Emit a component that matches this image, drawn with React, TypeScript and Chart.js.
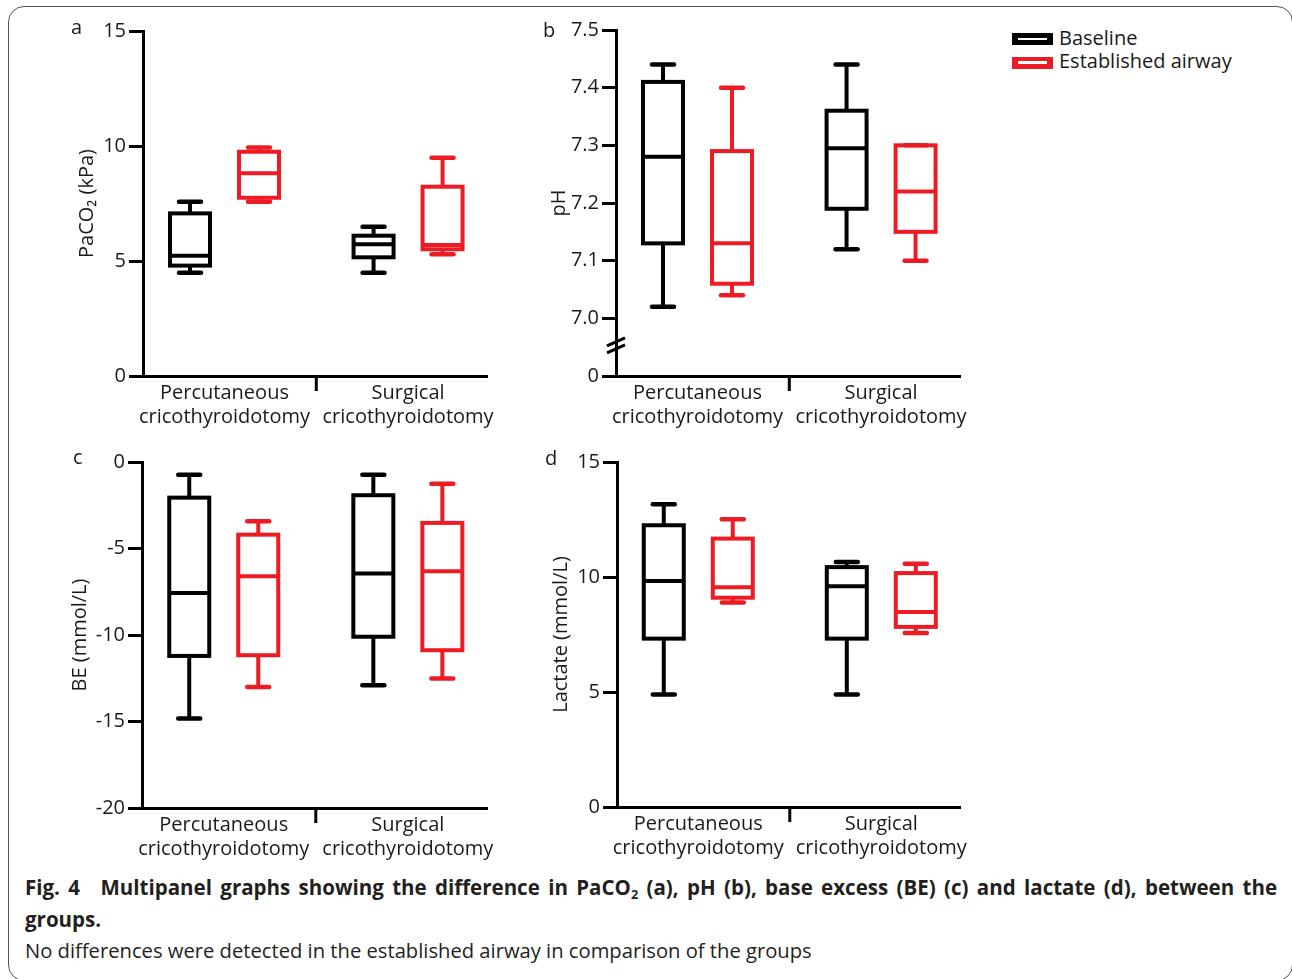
import React, { useEffect, useRef } from 'react';
import { Chart, registerables } from 'chart.js';

Chart.register(...registerables);

const FONT = "'Open Sans', 'DejaVu Sans', sans-serif";
const TEXT = '#1a1a1a';
const BLACK = '#000000';
const RED = '#ed1c24';

// ---------- data ----------
const categories = [
  ['Percutaneous', 'cricothyroidotomy'],
  ['Surgical', 'cricothyroidotomy'],
];
const groupIndex = [0, 1];
const seriesNames = ['Baseline', 'Established airway'];

// each box: [min, Q1, median, Q3, max]
const paco2Baseline = [
  [4.49, 4.8, 5.23, 7.07, 7.58],
  [4.49, 5.16, 5.73, 6.1, 6.49],
];
const paco2Airway = [
  [7.58, 7.75, 8.81, 9.75, 9.93],
  [5.29, 5.51, 5.7, 8.23, 9.49],
];
const phBaseline = [
  [7.02, 7.13, 7.28, 7.41, 7.44],
  [7.12, 7.19, 7.295, 7.36, 7.44],
];
const phAirway = [
  [7.04, 7.06, 7.13, 7.29, 7.4],
  [7.1, 7.15, 7.22, 7.3, 7.3],
];
const beBaseline = [
  [-14.83, -11.21, -7.57, -2.06, -0.73],
  [-12.9, -10.1, -6.45, -1.92, -0.73],
];
const beAirway = [
  [-13.0, -11.17, -6.61, -4.2, -3.43],
  [-12.52, -10.88, -6.32, -3.52, -1.25],
];
const lactateBaseline = [
  [4.89, 7.32, 9.83, 12.25, 13.16],
  [4.89, 7.32, 9.6, 10.43, 10.65],
];
const lactateAirway = [
  [8.89, 9.1, 9.55, 11.67, 12.51],
  [7.57, 7.83, 8.48, 10.17, 10.58],
];

const paco2Ticks = [0, 5, 10, 15];
const paco2TickLabels = ['0', '5', '10', '15'];
const phTicks = [6.9, 7.0, 7.1, 7.2, 7.3, 7.4, 7.5];
const phTickLabels = ['0', '7.0', '7.1', '7.2', '7.3', '7.4', '7.5'];
const beTicks = [-20, -15, -10, -5, 0];
const beTickLabels = ['-20', '-15', '-10', '-5', '0'];
const lactateTicks = [0, 5, 10, 15];
const lactateTickLabels = ['0', '5', '10', '15'];

const X_MIN = -0.444;
const X_MAX = 1.43;
const X_DIVIDER = 0.5;
const PH_BREAK = 6.953;

// ---------- plugin drawing box & whiskers via the chart scales ----------
const boxPlugin = {
  id: 'boxWhisker',
  afterDatasetsDraw(chart: any, _args: any, opts: any) {
    const { ctx } = chart;
    const ys = chart.scales.y;
    const xs = chart.scales.x;
    const py = (v: number) => ys.getPixelForValue(v);
    const seg = (x1: number, y1: number, x2: number, y2: number) => {
      ctx.beginPath();
      ctx.moveTo(x1, y1);
      ctx.lineTo(x2, y2);
      ctx.stroke();
    };
    ctx.save();
    chart.data.datasets.forEach((ds: any, di: number) => {
      const meta = chart.getDatasetMeta(di);
      ctx.strokeStyle = ds.boxColor;
      meta.data.forEach((bar: any, i: number) => {
        const [mn, q1, med, q3, mx] = ds.stats[i];
        const x = bar.x;
        const h = bar.width / 2;
        const c = opts.capHalf;
        ctx.lineCap = 'butt';
        ctx.lineWidth = opts.whiskerWidth;
        seg(x, py(q3), x, py(mx));
        seg(x, py(q1), x, py(mn));
        ctx.lineCap = 'round';
        ctx.lineWidth = opts.capWidth;
        seg(x - c, py(mx), x + c, py(mx));
        seg(x - c, py(mn), x + c, py(mn));
        ctx.lineCap = 'butt';
        ctx.lineJoin = 'miter';
        ctx.lineWidth = opts.boxWidth;
        ctx.strokeRect(x - h, py(q3), 2 * h, py(q1) - py(q3));
        seg(x - h, py(med), x + h, py(med));
      });
    });
    // category divider tick on x axis
    ctx.strokeStyle = BLACK;
    ctx.lineWidth = 3;
    ctx.lineCap = 'butt';
    const xm = xs.getPixelForValue(X_DIVIDER);
    seg(xm, xs.top, xm, xs.top + 15);
    // axis break marks
    if (opts.breakValue != null) {
      const yb = py(opts.breakValue);
      const xa = ys.right;
      ctx.lineWidth = 3;
      for (const d of [-3.5, 3.5]) seg(xa - 9, yb + d + 4, xa + 9, yb + d - 4);
    }
    ctx.restore();
  },
};

type Frame = {
  left: number; top: number; width: number; height: number;
  L: number; T: number; R: number; B: number; titleX: number;
};

type PanelProps = {
  frame: Frame;
  yTitle: string;
  baseline: number[][];
  airway: number[][];
  ticks: number[];
  tickLabels: string[];
  yMin: number;
  yMax: number;
  breakValue?: number;
};

function BoxPanel(props: PanelProps) {
  const ref = useRef<HTMLCanvasElement>(null);
  const f = props.frame;
  useEffect(() => {
    const yAxisWidth = f.L - f.left;
    const xAxisHeight = f.top + f.height - f.B;
    const mk = (stats: number[][], name: string, color: string) => ({
      label: name,
      data: groupIndex.map((g, i) => ({ x: g, y: [stats[i][1], stats[i][3]] })),
      stats,
      boxColor: color,
      backgroundColor: 'rgba(0,0,0,0)',
      borderWidth: 0,
      barThickness: 69,
      maxBarThickness: 40,
    });
    const chart = new Chart(ref.current as HTMLCanvasElement, {
      type: 'bar',
      data: {
        datasets: [
          mk(props.baseline, seriesNames[0], BLACK),
          mk(props.airway, seriesNames[1], RED),
        ] as any,
      },
      options: {
        responsive: false,
        animation: false,
        devicePixelRatio: 1,
        font: { family: FONT },
        layout: {
          padding: { left: 0, top: f.T - f.top, right: f.left + f.width - f.R, bottom: 0 },
        },
        plugins: {
          legend: { display: false },
          tooltip: { enabled: false },
          boxWhisker: {
            capHalf: 11,
            capWidth: 4.5,
            whiskerWidth: 4,
            boxWidth: 4,
            breakValue: props.breakValue,
          },
        } as any,
        scales: {
          x: {
            type: 'linear',
            min: X_MIN,
            max: X_MAX,
            offset: false,
            grid: { display: false, drawTicks: false, offset: false },
            border: { display: true, color: BLACK, width: 3 },
            afterBuildTicks: (s: any) => {
              s.ticks = groupIndex.map((v) => ({ value: v }));
            },
            afterFit: (s: any) => {
              s.height = xAxisHeight;
            },
            ticks: {
              padding: 5,
              maxRotation: 0,
              autoSkip: false,
              font: { family: FONT, size: 20 },
              color: TEXT,
              callback: (_v: any, i: number) => categories[i],
            },
          },
          y: {
            type: 'linear',
            min: props.yMin,
            max: props.yMax,
            grid: {
              display: true,
              drawOnChartArea: false,
              drawTicks: true,
              tickLength: 14,
              lineWidth: 3,
              color: BLACK,
            },
            border: { display: true, width: 3, color: BLACK },
            afterBuildTicks: (s: any) => {
              s.ticks = props.ticks.map((v) => ({ value: v }));
            },
            afterFit: (s: any) => {
              s.width = yAxisWidth;
            },
            ticks: {
              padding: 3,
              font: { family: FONT, size: 20 },
              color: TEXT,
              callback: (_v: any, i: number) => props.tickLabels[i],
            },
            title: {
              display: true,
              text: props.yTitle,
              font: { family: FONT, size: 20 },
              color: TEXT,
              padding: { top: f.titleX - f.left - 12, bottom: 0 },
            },
          },
        } as any,
      },
      plugins: [boxPlugin as any],
    });
    return () => chart.destroy();
  }, []);
  return (
    <canvas
      ref={ref}
      width={f.width}
      height={f.height}
      style={{ position: 'absolute', left: f.left, top: f.top, width: f.width, height: f.height }}
    />
  );
}

const frameA: Frame = { left: 40, top: 8, width: 470, height: 432, L: 143, T: 31, R: 487, B: 376, titleX: 87 };
const frameB: Frame = { left: 515, top: 8, width: 470, height: 432, L: 616, T: 30, R: 960, B: 376, titleX: 559 };
const frameC: Frame = { left: 40, top: 440, width: 470, height: 432, L: 142, T: 462, R: 487, B: 808, titleX: 80 };
const frameD: Frame = { left: 515, top: 440, width: 470, height: 432, L: 617, T: 462, R: 960, B: 807, titleX: 561 };

const letterStyle = (left: number, baseline: number): React.CSSProperties => ({
  position: 'absolute',
  left,
  top: baseline - 17.8,
  fontSize: 20,
  lineHeight: '20px',
  color: TEXT,
  fontFamily: FONT,
  whiteSpace: 'nowrap',
});

function LegendIcon({ color, top }: { color: string; top: number }) {
  return (
    <div style={{ position: 'absolute', left: 1012, top, width: 41, height: 12, background: color }}>
      <div style={{ position: 'absolute', left: 6, top: 4.8, width: 29, height: 2.4, background: '#fff' }} />
    </div>
  );
}

export default function App() {
  return (
    <div
      style={{
        position: 'absolute',
        left: 0,
        top: 0,
        width: 1292,
        height: 979,
        overflow: 'hidden',
        background: '#fff',
        fontFamily: FONT,
      }}
    >
      <div
        style={{
          position: 'absolute',
          left: 8,
          top: 6,
          width: 1285,
          height: 975,
          border: '1.5px solid #555',
          borderRadius: 16,
          boxSizing: 'border-box',
        }}
      />
      <BoxPanel frame={frameA} yTitle="PaCO₂ (kPa)" baseline={paco2Baseline} airway={paco2Airway}
        ticks={paco2Ticks} tickLabels={paco2TickLabels} yMin={0} yMax={15} />
      <BoxPanel frame={frameB} yTitle="pH" baseline={phBaseline} airway={phAirway}
        ticks={phTicks} tickLabels={phTickLabels} yMin={6.9} yMax={7.5} breakValue={PH_BREAK} />
      <BoxPanel frame={frameC} yTitle="BE (mmol/L)" baseline={beBaseline} airway={beAirway}
        ticks={beTicks} tickLabels={beTickLabels} yMin={-20} yMax={0} />
      <BoxPanel frame={frameD} yTitle="Lactate (mmol/L)" baseline={lactateBaseline} airway={lactateAirway}
        ticks={lactateTicks} tickLabels={lactateTickLabels} yMin={0} yMax={15} />

      <div style={letterStyle(71, 35)}>a</div>
      <div style={letterStyle(543, 38)}>b</div>
      <div style={letterStyle(73, 465)}>c</div>
      <div style={letterStyle(545, 466)}>d</div>

      <LegendIcon color={BLACK} top={33} />
      <LegendIcon color={RED} top={56.5} />
      <div style={{ ...letterStyle(1059, 45.5) }}>{seriesNames[0]}</div>
      <div style={{ ...letterStyle(1059, 68.5) }}>{seriesNames[1]}</div>

      <div
        style={{
          position: 'absolute',
          left: 25,
          top: 872,
          width: 1252,
          color: '#231f20',
          fontFamily: FONT,
          lineHeight: '31.5px',
        }}
      >
        <div
          style={{ fontWeight: 700, fontSize: 20.5, textAlign: 'justify', textAlignLast: 'justify' } as React.CSSProperties}
        >
          Fig. 4{'\u2003'}Multipanel graphs showing the difference in PaCO
          <sub style={{ fontSize: '0.62em', lineHeight: 0, verticalAlign: '-0.3em' }}>2</sub> (a), pH (b), base
          excess (BE) (c) and lactate (d), between the
        </div>
        <div style={{ fontWeight: 700, fontSize: 20.5 }}>groups.</div>
        <div style={{ fontSize: 20.2, whiteSpace: 'nowrap' }}>
          No differences were detected in the established airway in comparison of the groups
        </div>
      </div>
    </div>
  );
}
